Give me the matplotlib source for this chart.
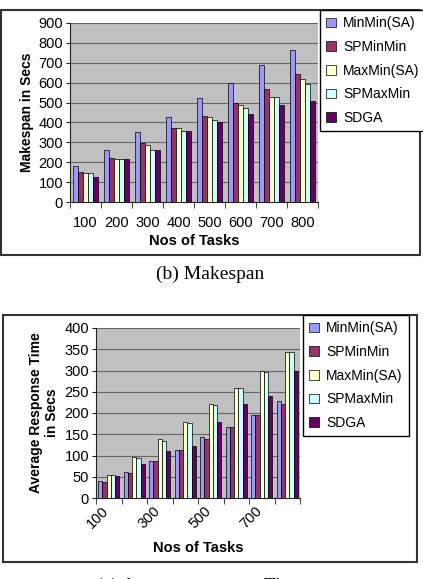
import numpy as np
import matplotlib
matplotlib.use("Agg")
import matplotlib.pyplot as plt
import matplotlib.transforms as mtransforms
from matplotlib.patches import Rectangle

plt.rcParams['font.family'] = ['Liberation Sans', 'DejaVu Sans']

tasks = ["100", "200", "300", "400", "500", "600", "700", "800"]
series = ["MinMin(SA)", "SPMinMin", "MaxMin(SA)", "SPMaxMin", "SDGA"]
colors = ["#9999FF", "#993366", "#FFFFCC", "#CCFFFF", "#660066"]

# makespan (secs)
mk_minmin = [180, 262, 350, 428, 523, 600, 690, 765]
mk_spminmin = [152, 222, 298, 370, 432, 498, 568, 643]
mk_maxmin = [145, 215, 285, 370, 425, 490, 530, 617]
mk_spmaxmin = [145, 215, 260, 355, 412, 472, 530, 593]
mk_sdga = [128, 215, 260, 355, 400, 440, 490, 510]

# average response time (secs)
rt_minmin = [40, 62, 88, 113, 143, 168, 195, 228]
rt_spminmin = [38, 58, 86, 113, 140, 168, 195, 222]
rt_maxmin = [55, 97, 140, 179, 222, 259, 300, 343]
rt_spmaxmin = [55, 94, 134, 176, 218, 259, 297, 343]
rt_sdga = [52, 80, 110, 122, 180, 222, 240, 300]

W, H = 423, 579
fig = plt.figure(figsize=(W / 100, H / 100), dpi=100)


def px_axes(x0, y0, x1, y1):
    return fig.add_axes([x0 / W, 1 - y1 / H, (x1 - x0) / W, (y1 - y0) / H])


def frame(x0, y0, x1, y1):
    fig.patches.append(Rectangle((x0 / W, 1 - y1 / H), (x1 - x0) / W, (y1 - y0) / H,
                                 transform=fig.transFigure, fill=False,
                                 edgecolor="#333333", linewidth=1.5))


def bar_chart(ax, data, ymax, step):
    x = np.arange(len(tasks))
    bw = 0.166
    for i, (vals, c) in enumerate(zip(data, colors)):
        ax.bar(x + (i - 2) * bw, vals, bw, color=c, edgecolor="black",
               linewidth=0.5, label=series[i], zorder=3)
    ax.set_facecolor("#C0C0C0")
    ax.set_xlim(-0.5, len(tasks) - 0.5)
    ax.set_ylim(0, ymax)
    ax.set_yticks(np.arange(0, ymax + 1, step))
    ax.yaxis.grid(True, color="#666666", linewidth=0.8, zorder=0)
    for s in ["top", "right"]:
        ax.spines[s].set_visible(False)
    ax.spines["left"].set_color("#222222")
    ax.spines["bottom"].set_color("#222222")
    ax.set_xticks(x)
    ax.set_xticks(np.arange(-0.5, len(tasks)), minor=True)
    ax.tick_params(axis="x", which="major", length=0, labelsize=10.5, pad=10)
    ax.tick_params(axis="x", which="minor", length=4, color="#222222")
    ax.tick_params(axis="y", length=3, labelsize=10.5, pad=2, color="#222222")


def add_legend(ax, x0, y0):
    fig.legend(*ax.get_legend_handles_labels(), loc="upper left",
               bbox_to_anchor=(x0 / W, 1 - y0 / H), fontsize=10, frameon=True,
               fancybox=False, edgecolor="black", framealpha=1,
               handlelength=0.7, handleheight=0.7, handletextpad=0.5,
               labelspacing=0.7, borderpad=0.45, borderaxespad=0)


# (b) Makespan
frame(1, 10, 420, 255)
ax1 = px_axes(70, 23, 318, 202)
bar_chart(ax1, [mk_minmin, mk_spminmin, mk_maxmin, mk_spmaxmin, mk_sdga], 900, 100)
ax1.set_xticklabels(tasks)
ax1.set_xlabel("Nos of Tasks", fontsize=10.5, fontweight="bold", labelpad=3)
ax1.set_ylabel("Makespan in Secs", fontsize=10, fontweight="bold", labelpad=3)
add_legend(ax1, 320, 10)
fig.text(210 / W, 1 - 274 / H, "(b) Makespan", ha="center", va="center",
         fontsize=14, family="Liberation Serif")

# (c) Average response time
frame(3, 315, 417, 562)
ax2 = px_axes(96, 328, 300, 498)
bar_chart(ax2, [rt_minmin, rt_spminmin, rt_maxmin, rt_spmaxmin, rt_sdga], 400, 50)
ax2.set_xticklabels([t if i % 2 == 0 else "" for i, t in enumerate(tasks)],
                    rotation=45, ha="right", rotation_mode="anchor")
ax2.tick_params(axis="x", which="major", pad=4)
shift = mtransforms.ScaledTranslation(-7 / 100, 0, fig.dpi_scale_trans)
for lbl in ax2.get_xticklabels():
    lbl.set_transform(lbl.get_transform() + shift)
ax2.set_xlabel("Nos of Tasks", fontsize=10.5, fontweight="bold", labelpad=7)
ax2.set_ylabel("Average Response Time\nin Secs", fontsize=10, fontweight="bold",
               labelpad=4)
add_legend(ax2, 303, 315)
fig.text(200 / W, 1 - 586 / H, "(c) Average response Time", ha="center",
         va="center", fontsize=14, family="Liberation Serif")

fig.savefig("out.png", dpi=100)
